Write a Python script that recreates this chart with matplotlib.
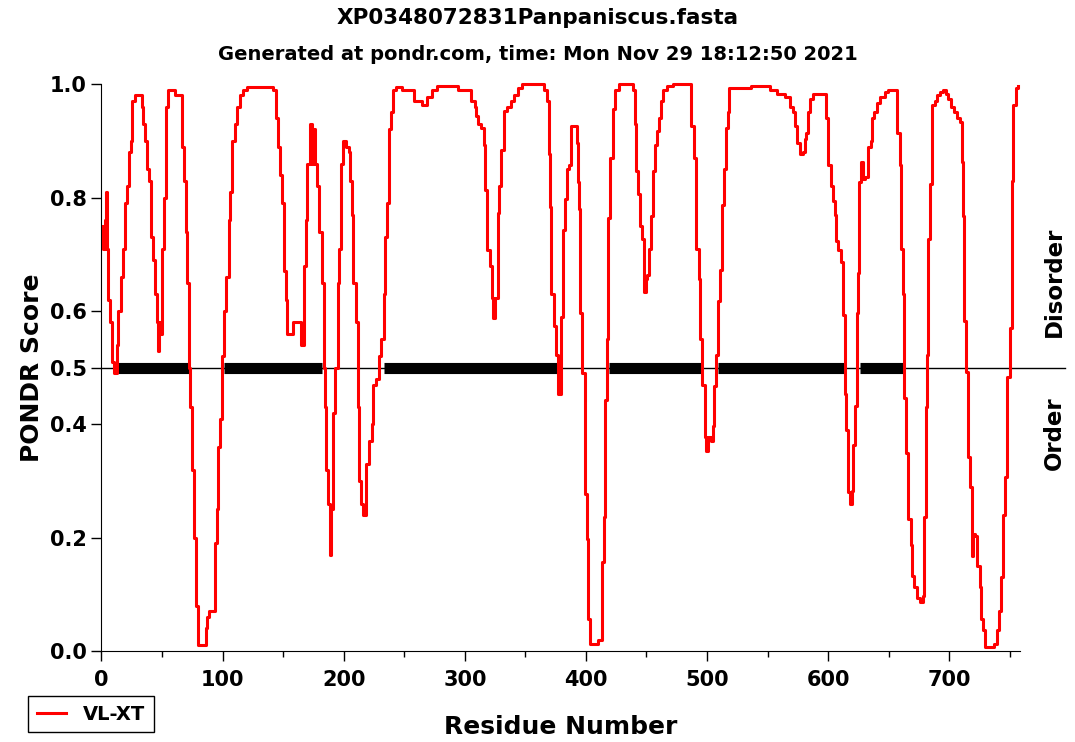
import matplotlib
matplotlib.use("Agg")
import matplotlib.pyplot as plt
from matplotlib.ticker import MultipleLocator

# residue number / VL-XT score
residue = [1, 2, 3, 4, 5, 6, 8, 10, 11, 12, 13, 15, 17, 19, 20, 22, 23, 25, 26, 29,
           33, 34, 35, 37, 38, 40, 41, 44, 45, 46, 47, 48, 49, 51, 52, 54, 56, 66, 67, 69,
           70, 72, 73, 74, 76, 77, 79, 80, 85, 87, 88, 90, 93, 94, 96, 97, 99, 100, 102, 104,
           106, 107, 109, 111, 113, 115, 118, 122, 140, 144, 145, 147, 148, 150, 152, 153, 154, 156, 160, 163,
           166, 168, 169, 171, 173, 174, 176, 177, 179, 181, 183, 184, 185, 186, 188, 189, 190, 192, 194, 196,
           197, 199, 200, 203, 205, 206, 207, 209, 211, 212, 214, 215, 217, 219, 222, 224, 225, 228, 230, 232,
           234, 235, 237, 238, 240, 242, 245, 252, 257, 259, 263, 266, 271, 275, 279, 292, 297, 304, 307, 309,
           310, 312, 315, 316, 318, 319, 322, 323, 324, 326, 328, 329, 331, 333, 337, 339, 342, 345, 350, 364,
           367, 369, 370, 371, 372, 375, 376, 378, 380, 382, 384, 385, 387, 388, 392, 393, 394, 395, 396, 398,
           400, 401, 403, 404, 408, 412, 414, 415, 417, 418, 419, 421, 423, 425, 429, 437, 440, 441, 442, 444,
           445, 447, 449, 450, 451, 453, 455, 456, 458, 460, 461, 463, 465, 469, 474, 486, 488, 490, 492, 494,
           495, 497, 499, 500, 502, 504, 505, 507, 508, 510, 511, 513, 515, 517, 518, 519, 524, 549, 555, 561,
           567, 570, 572, 574, 575, 578, 580, 581, 583, 584, 586, 589, 597, 599, 601, 603, 605, 606, 607, 610,
           612, 613, 614, 616, 617, 619, 620, 621, 623, 624, 625, 626, 628, 629, 632, 634, 636, 637, 639, 641,
           645, 649, 650, 656, 658, 660, 661, 662, 664, 665, 667, 669, 670, 672, 674, 677, 679, 680, 681, 682,
           683, 685, 687, 689, 691, 694, 696, 698, 700, 703, 705, 708, 710, 711, 712, 713, 715, 716, 718, 719,
           720, 722, 724, 726, 727, 729, 730, 735, 739, 740, 742, 744, 745, 747, 749, 751, 752, 754, 756, 757]
score = [0.75, 0.71, 0.76, 0.81, 0.71, 0.62, 0.58, 0.51, 0.49, 0.49, 0.54, 0.60, 0.66, 0.71, 0.79, 0.82, 0.88, 0.90, 0.97, 0.98,
         0.98, 0.96, 0.93, 0.90, 0.85, 0.83, 0.73, 0.69, 0.63, 0.58, 0.53, 0.58, 0.56, 0.71, 0.80, 0.96, 0.99, 0.98, 0.89, 0.83,
         0.74, 0.65, 0.50, 0.43, 0.32, 0.20, 0.08, 0.01, 0.01, 0.04, 0.06, 0.07, 0.07, 0.19, 0.25, 0.36, 0.41, 0.52, 0.60, 0.66,
         0.76, 0.81, 0.90, 0.93, 0.96, 0.98, 0.99, 0.995, 0.995, 0.99, 0.94, 0.89, 0.84, 0.79, 0.67, 0.62, 0.56, 0.56, 0.58, 0.58,
         0.54, 0.68, 0.76, 0.86, 0.93, 0.86, 0.92, 0.86, 0.82, 0.74, 0.65, 0.50, 0.43, 0.32, 0.26, 0.17, 0.25, 0.42, 0.50, 0.65,
         0.71, 0.86, 0.90, 0.89, 0.88, 0.83, 0.77, 0.65, 0.58, 0.43, 0.30, 0.26, 0.24, 0.33, 0.37, 0.40, 0.47, 0.48, 0.52, 0.55,
         0.63, 0.73, 0.79, 0.92, 0.95, 0.99, 0.995, 0.99, 0.99, 0.97, 0.97, 0.963, 0.977, 0.99, 0.997, 0.997, 0.99, 0.99, 0.97, 0.96,
         0.943, 0.93, 0.923, 0.893, 0.813, 0.707, 0.68, 0.623, 0.587, 0.623, 0.773, 0.82, 0.883, 0.953, 0.96, 0.97, 0.98, 0.993, 1.0, 1.0,
         0.99, 0.97, 0.877, 0.783, 0.63, 0.573, 0.523, 0.453, 0.59, 0.743, 0.797, 0.85, 0.857, 0.927, 0.927, 0.897, 0.827, 0.78, 0.597, 0.49,
         0.277, 0.197, 0.057, 0.013, 0.013, 0.02, 0.157, 0.237, 0.443, 0.55, 0.763, 0.87, 0.957, 0.99, 1.0, 1.0, 0.99, 0.93, 0.847, 0.807,
         0.75, 0.727, 0.633, 0.657, 0.663, 0.71, 0.767, 0.847, 0.893, 0.917, 0.94, 0.97, 0.99, 0.997, 1.0, 1.0, 0.927, 0.87, 0.71, 0.657,
         0.55, 0.47, 0.377, 0.353, 0.377, 0.37, 0.397, 0.467, 0.523, 0.617, 0.673, 0.787, 0.85, 0.923, 0.95, 0.993, 0.993, 0.997, 0.99, 0.983,
         0.977, 0.96, 0.95, 0.927, 0.897, 0.877, 0.88, 0.903, 0.913, 0.95, 0.973, 0.983, 0.983, 0.94, 0.857, 0.82, 0.793, 0.77, 0.723, 0.707,
         0.687, 0.593, 0.453, 0.39, 0.28, 0.26, 0.283, 0.363, 0.433, 0.597, 0.667, 0.827, 0.863, 0.833, 0.837, 0.89, 0.9, 0.94, 0.95, 0.967,
         0.977, 0.987, 0.99, 0.99, 0.913, 0.857, 0.71, 0.63, 0.447, 0.35, 0.233, 0.187, 0.133, 0.113, 0.093, 0.087, 0.097, 0.237, 0.43, 0.523,
         0.727, 0.823, 0.963, 0.97, 0.98, 0.987, 0.99, 0.983, 0.973, 0.96, 0.95, 0.94, 0.933, 0.863, 0.767, 0.583, 0.493, 0.343, 0.29, 0.167,
         0.207, 0.203, 0.15, 0.113, 0.057, 0.037, 0.007, 0.007, 0.013, 0.037, 0.07, 0.13, 0.24, 0.307, 0.483, 0.57, 0.83, 0.963, 0.993, 0.997]

# long disordered regions (black bars on the 0.5 line)
seg_start = [12, 101, 233, 419, 509, 626]
seg_end = [72, 182, 378, 496, 613, 662]

yticks = [0.0, 0.2, 0.4, 0.5, 0.6, 0.8, 1.0]

fig = plt.figure(figsize=(10.75, 7.42), dpi=100)
ax = fig.add_axes([0.0944, 0.1226, 0.854, 0.764])

ax.plot(residue, score, color="red", lw=2.2, drawstyle="steps-mid", clip_on=False, zorder=3)
ax.axhline(0.5, xmin=0, xmax=1.05, color="black", lw=1, clip_on=False, zorder=2)
ax.hlines([0.5] * len(seg_start), seg_start, seg_end, color="black", lw=8, zorder=2)

ax.set_xlim(0, 758)
ax.set_ylim(0, 1.0)
ax.xaxis.set_major_locator(MultipleLocator(100))
ax.xaxis.set_minor_locator(MultipleLocator(50))
ax.set_yticks(yticks)
ax.set_yticklabels(["%.1f" % v for v in yticks])
for s in ["top", "right"]:
    ax.spines[s].set_visible(False)
ax.tick_params(axis="both", which="major", length=7, width=1, labelsize=15)
ax.tick_params(axis="x", which="major", pad=7)
ax.tick_params(axis="x", which="minor", length=4, width=1)
for lab in ax.get_xticklabels() + ax.get_yticklabels():
    lab.set_fontweight("bold")

ax.set_xlabel("Residue Number", fontsize=18, fontweight="bold", labelpad=18)
ax.set_ylabel("PONDR Score", fontsize=18, fontweight="bold")

fig.text(0.5, 0.976, "XP0348072831Panpaniscus.fasta", ha="center", va="center",
         fontsize=15.5, fontweight="bold")
fig.text(0.5, 0.926, "Generated at pondr.com, time: Mon Nov 29 18:12:50 2021",
         ha="center", va="center", fontsize=14, fontweight="bold")

fig.text(0.981, 0.62, "Disorder", rotation=90, ha="center", va="center",
         fontsize=16.5, fontweight="bold")
fig.text(0.981, 0.416, "Order", rotation=90, ha="center", va="center",
         fontsize=16.5, fontweight="bold")

fig.legend(handles=ax.lines[:1], labels=["VL-XT"], loc="lower left",
           bbox_to_anchor=(0.026, 0.013), borderaxespad=0, fancybox=False,
           edgecolor="black", framealpha=1, prop={"weight": "bold", "size": 14},
           handlelength=1.5, borderpad=0.45, handletextpad=0.9)

fig.savefig("out.png", dpi=100)
